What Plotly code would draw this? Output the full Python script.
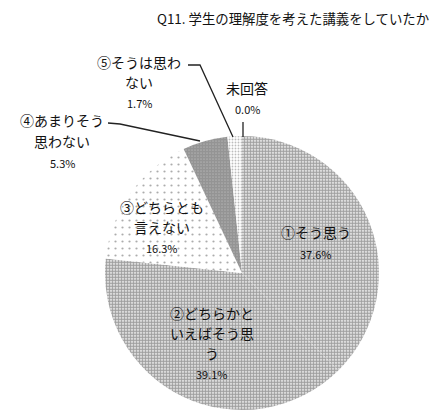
import plotly.graph_objects as go

# ---- data ----
labels = ["①そう思う", "②どちらかといえばそう思う", "③どちらとも言えない",
          "④あまりそう思わない", "⑤そうは思わない", "未回答"]
values = [37.6, 39.1, 16.3, 5.3, 1.7, 0.0]
label_lines = [["①そう思う"], ["②どちらかと", "いえばそう思", "う"], ["③どちらとも", "言えない"],
               ["④あまりそう", "思わない"], ["⑤そうは思わ", "ない"], ["未回答"]]
title_text = "Q11. 学生の理解度を考えた講義をしていたか"

# ---- styles ----
FONT = "Noto Sans CJK JP"
fg = ["#444444", "#404040", "#5a5a5a", "#2a2a2a", "#7a7a7a", "#888888"]
solid = [0.68, 0.7, 0.08, 0.88, 0.3, 0.3]
psize = [3, 3, 7, 3, 3, 3]

W, H = 430, 414
cx, cy, r = 242, 273, 137

fig = go.Figure()
fig.add_trace(go.Pie(
    labels=labels, values=values, sort=False, direction="clockwise", rotation=0,
    textinfo="none", hoverinfo="label+percent",
    marker=dict(colors=["#ffffff"] * len(values), line=dict(width=0),
                pattern=dict(shape=["."] * len(values), fgcolor=fg, bgcolor="#ffffff",
                             size=psize, solidity=solid, fillmode="overlay")),
    domain=dict(x=[(cx - r) / W, (cx + r) / W], y=[(H - cy - r) / H, (H - cy + r) / H]),
    showlegend=False,
))

# label positions (pixel): center x, first line y, line step
pos = [(316, 232, 21), (212, 313, 20), (162, 207, 20), (62, 120, 21), (139, 62, 20), (247, 88, 20)]
anns = []
for lines, v, (x, y, st) in zip(label_lines, values, pos):
    for i, t in enumerate(lines):
        anns.append(dict(x=x, y=y + i * st, xref="x", yref="y", text=t, showarrow=False,
                         font=dict(family=FONT, size=14, color="#111111")))
    anns.append(dict(x=x, y=y + len(lines) * st + 1, xref="x", yref="y", text=f"{v:.1f}%",
                     showarrow=False, font=dict(family=FONT, size=11, color="#111111")))
anns.append(dict(x=155, y=18, xref="x", yref="y", xanchor="left", text=title_text, showarrow=False,
                 font=dict(family=FONT, size=13.4, color="#111111")))

shapes = [
    dict(type="path", path="M 188 65 L 200 65 L 233 137", xref="x", yref="y",
         line=dict(color="#222", width=1.3)),
    dict(type="path", path="M 108 123 L 120 124 L 200 141", xref="x", yref="y",
         line=dict(color="#222", width=1.3)),
    dict(type="path", path="M 243 122 L 243 137", xref="x", yref="y",
         line=dict(color="#222", width=1.3)),
]

fig.update_layout(
    width=W, height=H, margin=dict(l=0, r=0, t=0, b=0),
    paper_bgcolor="white", plot_bgcolor="rgba(0,0,0,0)",
    xaxis=dict(range=[0, W], visible=False, fixedrange=True),
    yaxis=dict(range=[H, 0], visible=False, fixedrange=True),
    annotations=anns, shapes=shapes, showlegend=False,
)
fig.write_html("out.html", config={"displayModeBar": False},
               post_script="document.body.style.margin='0';document.body.style.overflow='hidden';")
